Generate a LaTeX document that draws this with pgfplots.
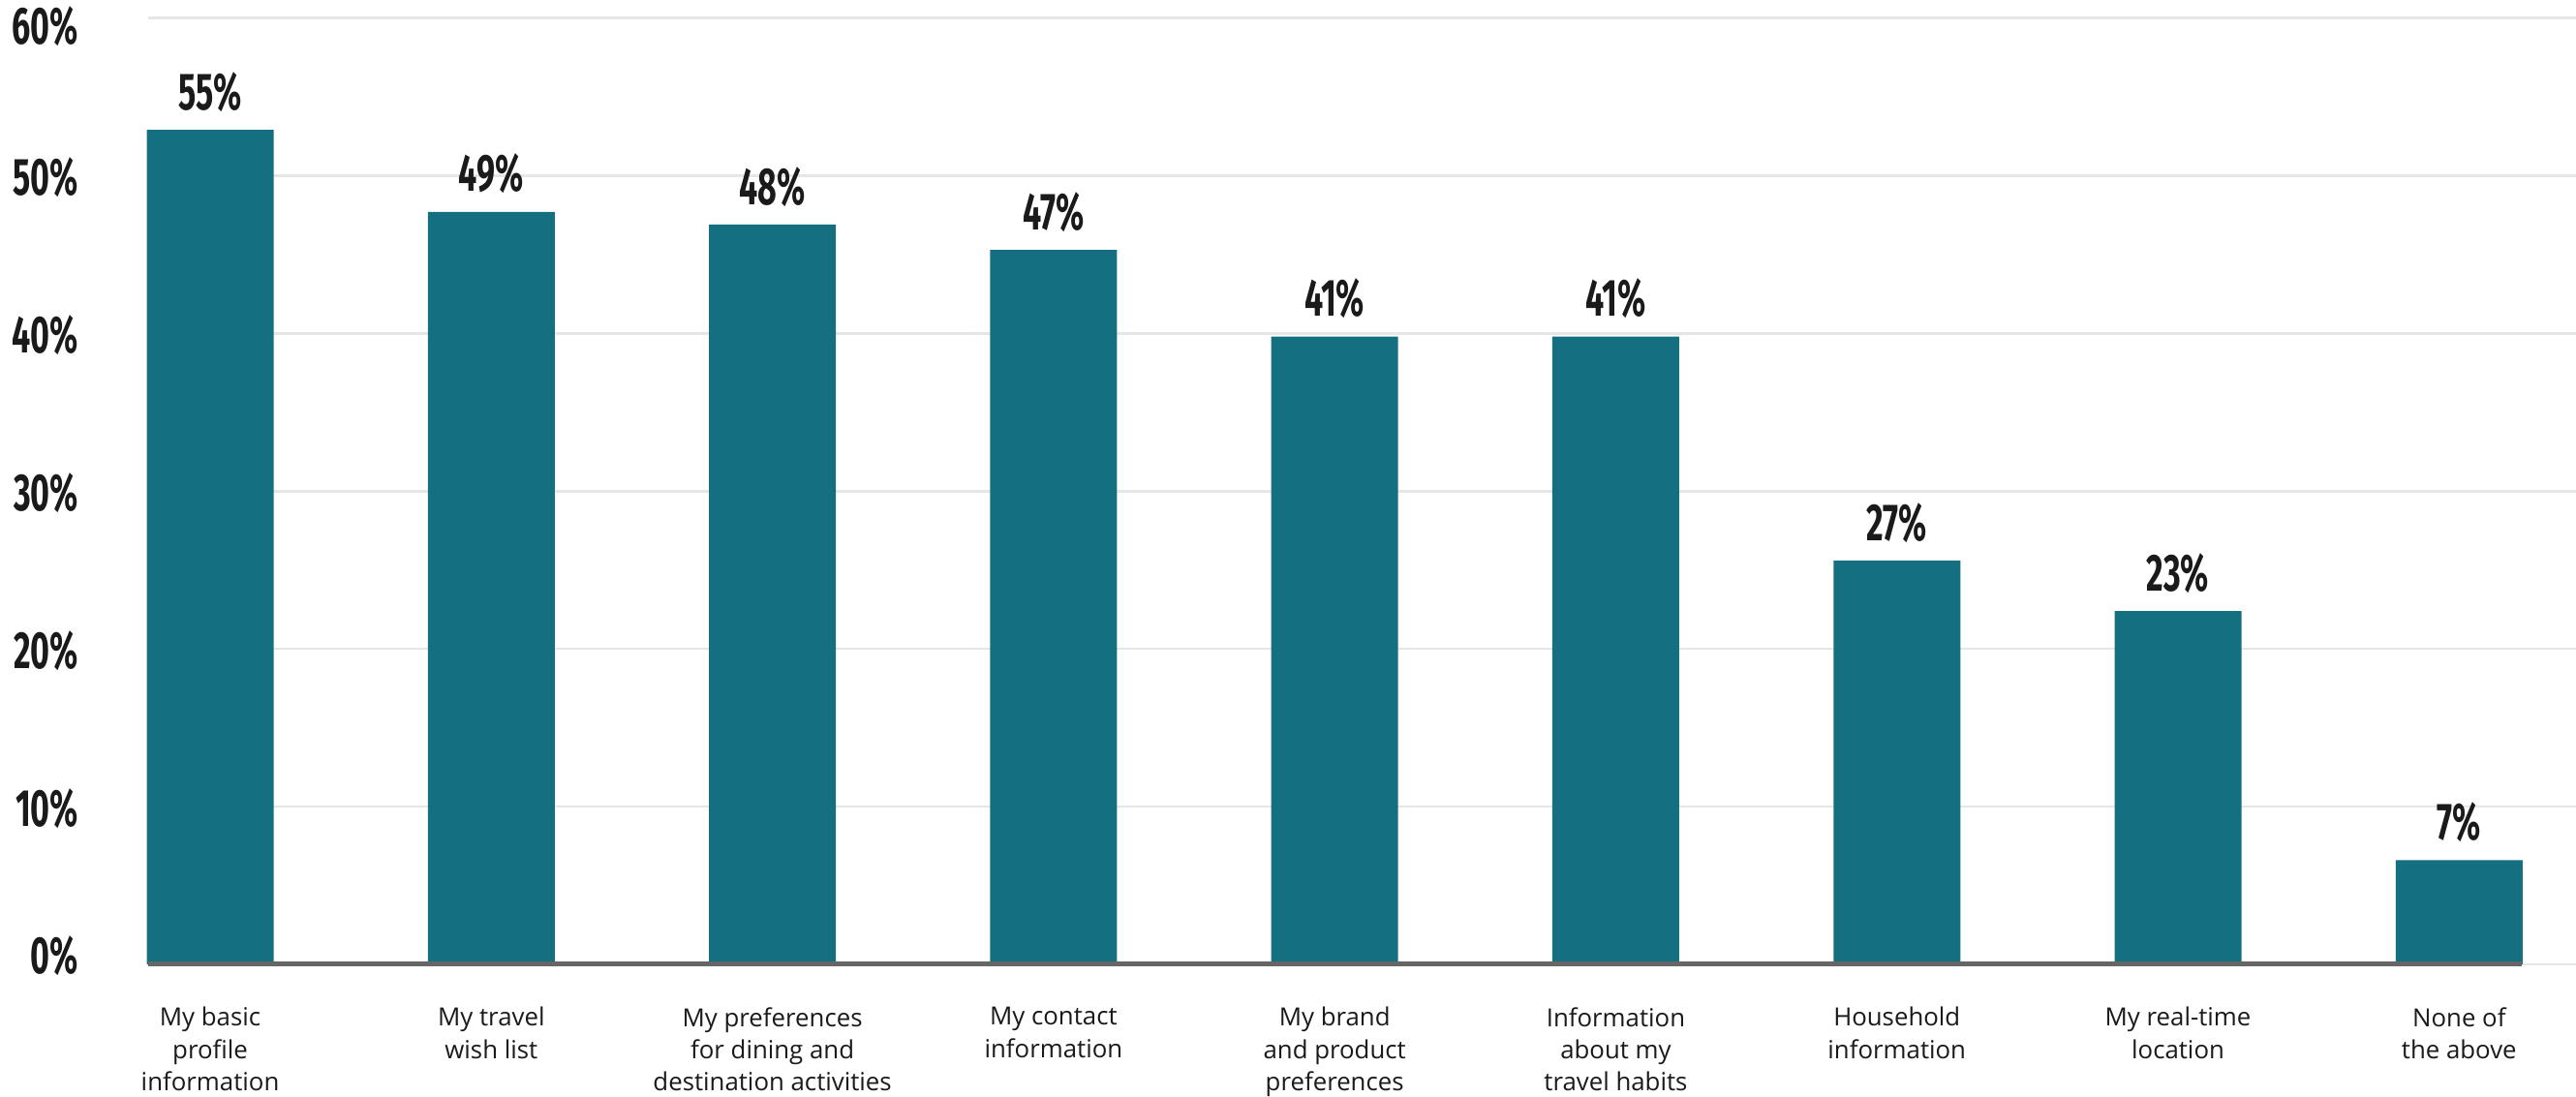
\documentclass[border=0pt]{standalone}
\usepackage{pgfplots}
\pgfplotsset{compat=1.18}
\usepackage{pgfplotstable}
\usepackage{fontspec}
\setmainfont{Open Sans}
\newfontfamily\cond[FakeStretch=0.63]{Fira Sans}
\definecolor{barteal}{HTML}{146F80}
\definecolor{txt}{HTML}{1A1A1A}
\definecolor{gridc}{HTML}{E6E6E6}
\definecolor{basec}{HTML}{666666}

\pgfplotstableread{
x y lab
0 52.9 55
1 47.7 49
2 46.9 48
3 45.3 47
4 39.8 41
5 39.8 41
6 25.6 27
7 22.4 23
8 6.6 7
}\datatable

\begin{document}
\begin{tikzpicture}
\begin{axis}[
  at={(0,0)}, anchor=south west,
  scale only axis,
  width=1253.7pt, height=488.7pt,
  xmin=-0.222, xmax=8.416,
  ymin=0, ymax=60,
  axis line style={draw=none},
  major tick length=0pt,
  ytick={0,10,20,30,40,50,60},
  yticklabels={0\%,10\%,20\%,30\%,40\%,50\%,60\%},
  yticklabel style={font=\cond\bfseries\fontsize{27}{28}\selectfont, text=txt, anchor=east, inner sep=0pt, xshift=-35.6pt,
     yshift={ifthenelse(\ticknum==0,4.5,ifthenelse(\ticknum==6,-4.5,-1))*1pt}},
  ymajorgrids,
  grid style={color=gridc, line width=1.3pt},
  xtick={0,1,2,3,4,5,6,7,8},
  xticklabels={{My basic\\profile\\information},{My travel\\wish list},{My preferences\\for dining and\\destination activities},{My contact\\information},{My brand\\and product\\preferences},{Information\\about my\\travel habits},{Household\\information},{My real-time\\location},{None of\\the above}},
  xticklabel style={font=\fontsize{12.9}{16.6}\selectfont, text=txt, align=center, anchor=north, inner sep=0pt, yshift=-22pt},
  clip=false,
]
\addplot[ybar, bar width=65.5pt, fill=barteal, draw=none,
  point meta=explicit symbolic,
  nodes near coords={\pgfplotspointmeta\%},
  nodes near coords style={font=\cond\bfseries\fontsize{27}{28}\selectfont, text=txt, anchor=south, inner sep=0pt, yshift=9.2pt},
] table[x=x, y=y, meta=lab] {\datatable};
\draw[line width=2.5pt, color=basec] (axis cs:-0.222,0) -- (axis cs:8.222,0);
\end{axis}
\pgfresetboundingbox
\path[use as bounding box] (-76.3pt,-68.5pt) rectangle (1253.7pt,498pt);
\end{tikzpicture}
\end{document}
